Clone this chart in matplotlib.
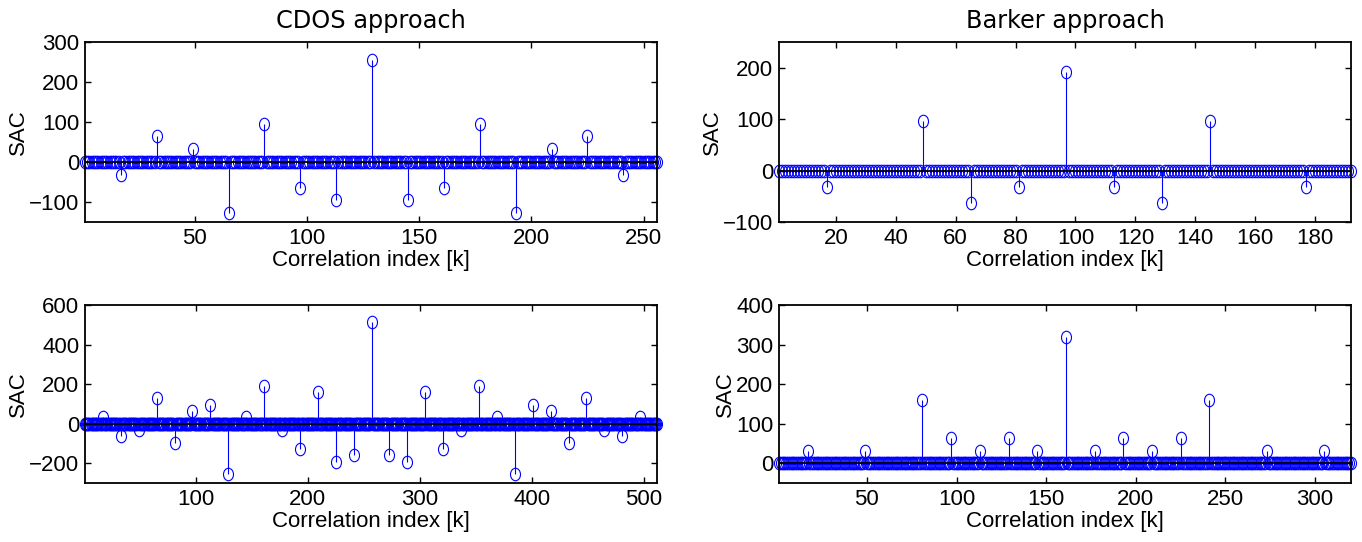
import numpy as np
import matplotlib
matplotlib.use("Agg")
import matplotlib.pyplot as plt
from matplotlib.path import Path

plt.rcParams['font.family'] = ['Liberation Sans', 'DejaVu Sans']

# CDOS approach, short code (N = 256)
cdos_a_n = 256
cdos_a_k = [17, 33, 49, 65, 81, 97, 113, 129, 145, 161, 177, 193, 209, 225, 241]
cdos_a_v = [-32, 64, 32, -128, 96, -64, -96, 256, -96, -64, 96, -128, 32, 64, -32]

# Barker approach, short code (N = 192)
bark_a_n = 192
bark_a_k = [17, 49, 65, 81, 97, 113, 129, 145, 177]
bark_a_v = [-32, 96, -64, -32, 192, -32, -64, 96, -32]

# CDOS approach, long code (N = 512)
cdos_b_n = 512
cdos_b_k = [17, 33, 49, 65, 81, 97, 113, 129, 145, 161, 177, 193, 209, 225, 241,
            257, 273, 289, 305, 321, 337, 353, 369, 385, 401, 417, 433, 449, 465, 481, 497]
cdos_b_v = [32, -64, -32, 128, -96, 64, 96, -256, 32, 192, -32, -128, 160, -192, -160,
            512, -160, -192, 160, -128, -32, 192, 32, -256, 96, 64, -96, 128, -32, -64, 32]

# Barker approach, long code (N = 320)
bark_b_n = 320
bark_b_k = [17, 49, 81, 97, 113, 129, 145, 161, 177, 193, 209, 225, 241, 273, 305]
bark_b_v = [32, 32, 160, 64, 32, 64, 32, 320, 32, 64, 32, 64, 160, 32, 32]

# slightly tall open circle, like the stretched original
circ = Path.unit_circle()
ellipse = Path(circ.vertices * np.array([0.8, 1.0]), circ.codes)


def full_series(n, ks, vs):
    sac = np.zeros(n)
    for k, v in zip(ks, vs):
        sac[k - 1] = v
    return np.arange(1, n + 1), sac


def draw(ax, n, ks, vs, ylim, yticks, xticks):
    k, sac = full_series(n, ks, vs)
    markers, stems, base = ax.stem(k, sac, linefmt='b-', markerfmt='o', basefmt='k-')
    plt.setp(stems, linewidth=0.8, color='#0000ff')
    plt.setp(markers, marker=ellipse, markerfacecolor='none', markeredgecolor='#0000ff',
             markersize=9.0, markeredgewidth=0.8)
    plt.setp(base, color='black', linewidth=1.3)
    ax.set_xlim(1, n)
    ax.set_ylim(*ylim)
    ax.set_xticks(xticks)
    ax.set_yticks(yticks)
    ax.set_ylabel('SAC', fontsize=16, labelpad=0)
    ax.set_xlabel('Correlation index [k]', fontsize=16, labelpad=1)
    ax.tick_params(direction='in', top=True, right=True, length=4, width=1,
                   labelsize=16, pad=4)
    for s in ax.spines.values():
        s.set_linewidth(1.3)
    markers.set_clip_on(False)


W, H = 1362, 542
fig = plt.figure(figsize=(W / 100, H / 100), dpi=100)

ax1 = fig.add_axes([85 / W, 1 - 222 / H, 572 / W, 180 / H])
ax2 = fig.add_axes([779 / W, 1 - 222 / H, 572 / W, 180 / H])
ax3 = fig.add_axes([85 / W, 1 - 483 / H, 572 / W, 178 / H])
ax4 = fig.add_axes([779 / W, 1 - 483 / H, 572 / W, 178 / H])

draw(ax1, cdos_a_n, cdos_a_k, cdos_a_v, (-150, 300), [-100, 0, 100, 200, 300],
     [50, 100, 150, 200, 250])
draw(ax2, bark_a_n, bark_a_k, bark_a_v, (-100, 250), [-100, 0, 100, 200],
     [20, 40, 60, 80, 100, 120, 140, 160, 180])
draw(ax3, cdos_b_n, cdos_b_k, cdos_b_v, (-300, 600), [-200, 0, 200, 400, 600],
     [100, 200, 300, 400, 500])
draw(ax4, bark_b_n, bark_b_k, bark_b_v, (-50, 400), [0, 100, 200, 300, 400],
     [50, 100, 150, 200, 250, 300])

ax1.set_title('CDOS approach', fontsize=17.3, family='DejaVu Sans', pad=10)
ax2.set_title('Barker approach', fontsize=17.3, family='DejaVu Sans', pad=10)

fig.savefig('out.png', dpi=100)
